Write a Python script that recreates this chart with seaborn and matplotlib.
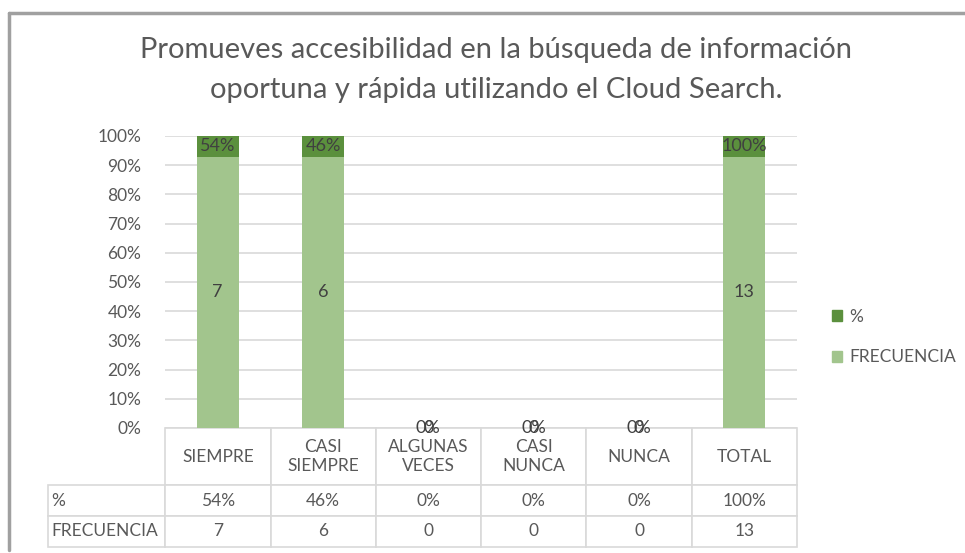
import numpy as np
import pandas as pd
import matplotlib
matplotlib.use("Agg")
import matplotlib.pyplot as plt
import seaborn as sns
from matplotlib.patches import Patch
from matplotlib.lines import Line2D

# data
categories = ["SIEMPRE", "CASI\nSIEMPRE", "ALGUNAS\nVECES", "CASI\nNUNCA", "NUNCA", "TOTAL"]
frecuencia = [7, 6, 0, 0, 0, 13]
porcentaje = [0.54, 0.46, 0.0, 0.0, 0.0, 1.00]
y_ticks = [0, 0.1, 0.2, 0.3, 0.4, 0.5, 0.6, 0.7, 0.8, 0.9, 1.0]
row_labels = ["%", "FRECUENCIA"]
title = "Promueves accesibilidad en la búsqueda de información\noportuna y rápida utilizando el Cloud Search."

LIGHT = "#A2C58D"
DARK = "#5B903D"
TEXT = "#595959"
LABEL = "#404040"
GRID = "#D9D9D9"
FS = 12.5

df = pd.DataFrame({"cat": categories, "freq": frecuencia, "pct": porcentaje})
total = df["freq"] + df["pct"]
# 100% stacked: each series as a share of the column total
df["freq_share"] = (df["freq"] / total).fillna(0)
df["stack_top"] = (total / total).fillna(0)

sns.set_theme(style="white")
plt.rcParams["font.family"] = ["Lato", "DejaVu Sans"]

fig = plt.figure(figsize=(9.65, 5.53), dpi=100)
ax = fig.add_axes([165 / 965, 1 - 428 / 553, 632 / 965, 292 / 553])

# dark (%) bar drawn full height, light (frecuencia) overlaid from the bottom
sns.barplot(data=df, x="cat", y="stack_top", color=DARK, width=0.4,
            saturation=1, linewidth=0, ax=ax, zorder=2)
sns.barplot(data=df, x="cat", y="freq_share", color=LIGHT, width=0.4,
            saturation=1, linewidth=0, ax=ax, zorder=3)

for i, row in df.iterrows():
    ax.text(i, (row.freq_share + row.stack_top) / 2, f"{row.pct:.0%}",
            ha="center", va="center", color=LABEL, fontsize=13, zorder=4)
    ax.text(i, row.freq_share / 2, f"{row.freq}",
            ha="center", va="center", color=LABEL, fontsize=13, zorder=4)

ax.set_ylim(0, 1)
ax.set_yticks(y_ticks)
ax.set_yticklabels([f"{t:.0%}" for t in y_ticks], color=TEXT, fontsize=FS)
ax.tick_params(axis="y", length=0, pad=17)
ax.set_xticks([])
ax.set_xlabel("")
ax.set_ylabel("")
ax.yaxis.grid(True, color=GRID, linewidth=1.2, zorder=0)
ax.set_axisbelow(True)
for s in ax.spines.values():
    s.set_visible(False)

# data table under the plot (first column holds the series names)
cell_text = [[row_labels[0]] + [f"{p:.0%}" for p in porcentaje],
             [row_labels[1]] + [str(f) for f in frecuencia]]
tbl = ax.table(cellText=cell_text, colLabels=[""] + categories,
               colWidths=[117 / 632] + [105 / 632] * len(categories),
               cellLoc="center",
               bbox=[-117 / 632, -119 / 292, 749 / 632, 119 / 292])
tbl.auto_set_font_size(False)
for (r, c), cell in tbl.get_celld().items():
    cell.set_edgecolor(GRID)
    cell.set_linewidth(1.2)
    cell.get_text().set_color(TEXT)
    cell.get_text().set_fontsize(FS)
    cell.PAD = 0.03
    cell.set_height(57 if r == 0 else 31)
    if c == 0:
        cell.get_text().set_horizontalalignment("left")
        if r == 0:
            cell.visible_edges = ""

fig.text(496 / 965, 1 - 70 / 553, title, ha="center", va="center",
         fontsize=21, color=TEXT, linespacing=1.65)

handles = [Patch(color=DARK, label="%"), Patch(color=LIGHT, label="FRECUENCIA")]
fig.legend(handles=handles, loc="center left", bbox_to_anchor=(816 / 965, 1 - 337 / 553),
           frameon=False, fontsize=FS, labelcolor=TEXT, handlelength=0.6,
           handleheight=0.6, handletextpad=0.4, labelspacing=1.4)

# outer frame of the pasted chart (top and left edges)
fig.add_artist(Line2D([9 / 965, 1], [1 - 13 / 553, 1 - 13 / 553], color="#A0A0A0",
                      linewidth=2.5, transform=fig.transFigure))
fig.add_artist(Line2D([9 / 965, 9 / 965], [0.005, 1 - 13 / 553], color="#A0A0A0",
                      linewidth=2.5, transform=fig.transFigure))

fig.savefig("out.png", dpi=100)
